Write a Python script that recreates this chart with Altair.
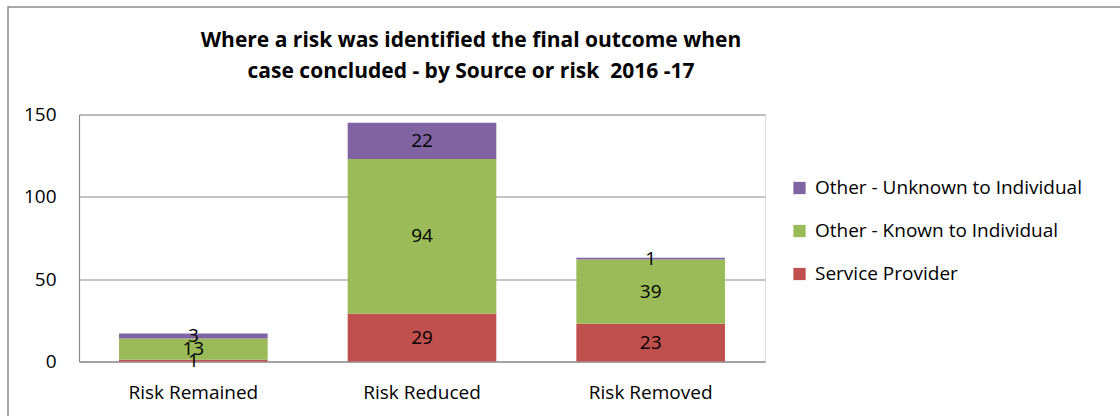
import altair as alt
import pandas as pd

categories = ["Risk Remained", "Risk Reduced", "Risk Removed"]
series = ["Service Provider", "Other - Known to Individual", "Other - Unknown to Individual"]
service_provider = [1, 29, 23]
known = [13, 94, 39]
unknown = [3, 22, 1]
colors = ["#C0504D", "#9BBB59", "#8064A2"]
title_lines = ["Where a risk was identified the final outcome when",
               "case concluded - by Source or risk\u00a0 2016 -17"]

rows = []
for i, c in enumerate(categories):
    for k, (s, vals) in enumerate(zip(series, [service_provider, known, unknown])):
        rows.append({"cat": c, "series": s, "value": vals[i], "rank": k})
df = pd.DataFrame(rows)

FONT = "Open Sans"
legend_domain = series[::-1]
legend_range = colors[::-1]

base = alt.Chart(df).transform_stack(
    stack="value", groupby=["cat"], as_=["y0", "y1"],
    sort=[alt.SortField("rank", order="ascending")]
).transform_calculate(mid="(datum.y0 + datum.y1) / 2")

y_scale = alt.Scale(domain=[0, 150], nice=False, zero=True)

x_enc = alt.X("cat:N", sort=categories, title=None,
              scale=alt.Scale(paddingInner=0.35, paddingOuter=0.175),
              axis=alt.Axis(labelAngle=0, labelFontSize=19, labelFont=FONT,
                            labelColor="#000", labelPadding=22, tickSize=0,
                            domainColor="#8a8a8a", domainWidth=1.2))

bars = base.mark_bar().encode(
    x=x_enc,
    y=alt.Y("y0:Q", title=None, scale=y_scale,
            axis=alt.Axis(values=[0, 50, 100, 150], labelFontSize=19, labelFont=FONT,
                          labelColor="#000", labelPadding=23, tickSize=0,
                          grid=True, gridColor="#8a8a8a", gridWidth=1.2,
                          domainColor="#8a8a8a", domainWidth=1.2)),
    y2="y1:Q",
    color=alt.Color("series:N", scale=alt.Scale(domain=legend_domain, range=legend_range),
                    legend=alt.Legend(title=None, orient="none", legendX=711, legendY=64,
                                      symbolType="square", symbolSize=150,
                                      symbolStrokeWidth=0, labelFontSize=19,
                                      labelFont=FONT, labelColor="#000",
                                      labelLimit=500,
                                      rowPadding=23, labelOffset=6)),
)

labels = base.mark_text(fontSize=19, font=FONT, color="#000", baseline="middle").encode(
    x=alt.X("cat:N", sort=categories),
    y=alt.Y("mid:Q", scale=y_scale),
    text=alt.Text("value:Q"),
)

frame = alt.Chart(pd.DataFrame({"a": [0]})).mark_rect(
    fill=None, stroke="#8a8a8a", strokeWidth=1.5
).encode(x=alt.value(-71), x2=alt.value(1200), y=alt.value(-107.5), y2=alt.value(500))

chart = alt.layer(frame, bars, labels).properties(
    width=686, height=247,
    autosize=alt.AutoSizeParams(type="none"),
    padding={"left": 79, "top": 114.5, "right": 355, "bottom": 54.5},
    title=alt.TitleParams(text=title_lines, anchor="middle", dx=49, offset=-76,
                          fontSize=21, font=FONT, fontWeight="bold", color="#000",
                          lineHeight=31),
).configure_view(stroke=None).configure(background="white")

chart.save("out.html", embed_options={"renderer": "svg", "actions": False})
